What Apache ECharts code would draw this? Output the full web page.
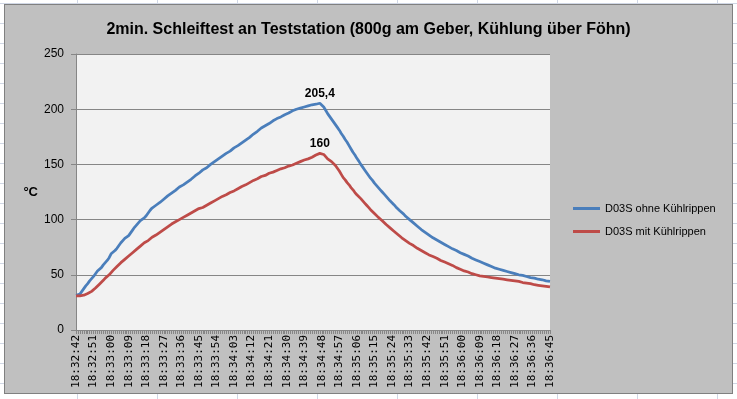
<!DOCTYPE html>
<html>
<head>
<meta charset="utf-8">
<script src="https://cdn.jsdelivr.net/npm/echarts@6/dist/echarts.min.js"></script>
<style>
  html, body {
    margin: 0;
    padding: 0;
    width: 737px;
    height: 399px;
    overflow: hidden;
    background-color: #fff;
    background-image:
      repeating-linear-gradient(to right, transparent 0, transparent 77px, #d0d7e5 77px, #d0d7e5 78px, transparent 78px, transparent 80px),
      repeating-linear-gradient(to bottom, transparent 0, transparent 3px, #d0d7e5 3px, #d0d7e5 4px, transparent 4px, transparent 20px);
  }
  #box {
    position: absolute;
    left: 4px;
    top: 4px;
    width: 727px;
    height: 388px;
    background: #c0c0c0;
    border: 1px solid #808080;
  }
  #chart {
    position: absolute;
    left: 0;
    top: 0;
    width: 737px;
    height: 399px;
  }
</style>
</head>
<body>
<div id="box"></div>
<div id="chart"></div>
<script>
// Messung: ein Wert pro Sekunde ab 18:32:42
const startTime = [18, 32, 42];
const sampleCount = 244;

const ohneRippen = [
  31.5, 31.5, 32.5, 35, 37.5, 40, 42, 44.5, 46.5, 48.5,
  51, 53.5, 55, 56.5, 59, 61, 63, 65.5, 69, 70.5,
  72, 74, 76.5, 79, 81, 83, 84, 85.5, 88, 90.5,
  93, 95, 97, 99, 100, 101.5, 103.5, 106, 108.5, 110.5,
  112, 113, 114, 115.5, 117, 118.5, 120, 121.5, 123, 124,
  125, 126.5, 128, 129.5, 130.5, 131.5, 133, 134, 135, 136.5,
  138, 139.5, 141, 142, 143.5, 145, 146, 147, 148.5, 150,
  151.5, 152.5, 153.5, 155, 156.5, 157.5, 158.5, 160, 161, 162,
  163.5, 165, 166, 167, 168, 169.5, 171, 172, 173, 174.5,
  176, 177.5, 179, 180, 181.5, 183, 184, 185, 186, 187,
  188, 189.5, 190.5, 191.5, 192.5, 193, 194, 195, 195.5, 196.5,
  197.5, 198.5, 199, 200, 200.5, 201, 201.5, 202, 202.5, 203,
  203.5, 204, 204.5, 204.5, 205, 205.4, 205, 202, 199, 196,
  193.5, 191, 188.5, 186, 183.5, 181, 178, 175.5, 172.5, 170,
  167, 164, 161, 158.5, 155.5, 153, 150, 147.5, 145, 142.5,
  140, 137.5, 135.5, 133, 131, 129, 127, 125, 123, 121,
  119, 117, 115.5, 113.5, 111.5, 110, 108, 106.5, 105, 103,
  101.5, 100, 98.5, 97, 95.5, 94, 92.5, 91, 90, 88.5,
  87.5, 86, 85, 83.5, 82.5, 81.5, 80.5, 79.5, 78.5, 77.5,
  76.5, 75.5, 74.5, 73.5, 72.5, 72, 71, 70, 69, 68.5,
  67.7, 67, 66, 65, 64, 63.5, 62.5, 62, 61, 60.5,
  60, 59, 58.5, 57.5, 57, 56, 55.5, 55, 54.5, 54,
  53.5, 53, 52.5, 52, 51.5, 51, 50.5, 50, 49.5, 49.5,
  49, 48.5, 48, 47.5, 47.5, 47, 46.5, 46, 45.5, 45.5,
  45, 44.5, 44, 44
];

const mitRippen = [
  31, 31, 31, 31, 31.5, 32, 33, 34, 35, 36.5,
  38, 39.5, 41.5, 43, 45, 47, 48.5, 50, 52, 54,
  55.5, 57.5, 59, 61, 62.5, 64, 65.5, 67, 68.5, 70,
  71.5, 73, 74.5, 76, 77.5, 79, 80, 81, 82.5, 84,
  85.5, 86, 87, 88.5, 90, 91, 92.5, 93.5, 95, 96,
  97, 98, 99, 100, 101, 102, 103, 104, 105, 106,
  107, 108, 109, 110, 110.5, 111, 112, 113, 114, 115,
  116, 117, 118, 119, 120, 121, 122, 122.5, 123.5, 124.5,
  125.5, 126, 127, 128, 129, 130, 131, 131.5, 132.5, 133.5,
  134.5, 135.5, 136, 137, 138, 139, 139.5, 140, 141, 142,
  142.5, 143, 144, 144.5, 145.5, 146, 146.5, 147, 148, 148.5,
  149, 149.5, 150, 151, 151.5, 152.5, 153, 154, 154.5, 155,
  156, 156.5, 157.5, 158.5, 159.5, 160, 160, 159, 157, 155,
  153.5, 152.5, 151, 149, 146.5, 144, 141, 138, 136, 133.5,
  131.5, 129, 127, 124.5, 122.5, 121, 119, 117, 115, 113,
  111, 109, 107.5, 105.5, 104, 102, 100.5, 99, 97.5, 95.5,
  94, 92.5, 91, 89.5, 88, 86.5, 85, 83.5, 82.5, 81,
  80, 78.5, 77.5, 76.5, 75, 74, 73, 72, 71, 70,
  69, 68, 67.5, 66.5, 65.5, 65, 64, 63, 62.5, 61.5,
  61, 60, 59, 58.5, 57.5, 56.5, 56, 55, 54.5, 53.5,
  53, 52.5, 51.5, 51, 50.5, 50, 49.5, 49, 49, 48.5,
  48.5, 48, 47.5, 47.5, 47, 47, 46.5, 46.5, 46, 46,
  45.5, 45.5, 45, 45, 44.5, 44.5, 44, 44, 43.5, 43,
  42.5, 42.5, 42, 42, 41.5, 41, 41, 40.5, 40.5, 40,
  40, 39.5, 39.5, 39
];

const seriesNames = ["D03S ohne Kühlrippen", "D03S mit Kühlrippen"];
const seriesColors = ["#4a7ebb", "#be4b48"];

// Zeitachse
const zeiten = [];
for (let i = 0; i < sampleCount; i++) {
  let s = startTime[0] * 3600 + startTime[1] * 60 + startTime[2] + i;
  let h = Math.floor(s / 3600);
  let m = Math.floor((s % 3600) / 60);
  let sec = s % 60;
  zeiten.push(h + ":" + String(m).padStart(2, "0") + ":" + String(sec).padStart(2, "0"));
}

// nur das Maximum bekommt ein Label
function mitMaxLabel(werte) {
  let maxIdx = 0;
  werte.forEach((v, i) => {
    if (v > werte[maxIdx]) maxIdx = i;
  });
  return werte.map((v, i) => {
    if (i !== maxIdx) return v;
    return {
      value: v,
      label: {
        show: true,
        position: "top",
        distance: 4,
        color: "#000",
        fontWeight: "bold",
        fontSize: 12,
        fontFamily: "Liberation Sans",
        formatter: p => String(p.value).replace(".", ",")
      }
    };
  });
}

var chart = echarts.init(document.getElementById("chart"));

let option = {
  animation: false,
  title: {
    text: "2min. Schleiftest an Teststation (800g am Geber, Kühlung über Föhn)",
    left: "center",
    top: 17,
    textStyle: {
      color: "#000",
      fontSize: 16,
      fontWeight: "bold",
      fontFamily: "Liberation Sans"
    }
  },
  legend: {
    orient: "vertical",
    left: 568,
    top: 198,
    itemGap: 12,
    itemWidth: 27,
    itemHeight: 3,
    icon: "rect",
    textStyle: {
      color: "#000",
      fontSize: 11,
      fontFamily: "Liberation Sans"
    },
    data: seriesNames
  },
  grid: {
    left: 76,
    right: 187,
    top: 54,
    bottom: 69,
    show: true,
    backgroundColor: "#f2f2f2",
    borderWidth: 0
  },
  xAxis: {
    type: "category",
    data: zeiten,
    boundaryGap: false,
    axisLine: {
      lineStyle: { color: "#868686" }
    },
    axisTick: {
      interval: 0,
      length: 4,
      lineStyle: { color: "#868686" }
    },
    axisLabel: {
      interval: 8,
      rotate: 90,
      margin: 5,
      color: "#000",
      fontSize: 11,
      fontFamily: "DejaVu Sans Mono"
    },
    splitLine: { show: false }
  },
  yAxis: {
    type: "value",
    min: 0,
    max: 250,
    interval: 50,
    name: "°C",
    nameLocation: "middle",
    nameRotate: 0,
    nameGap: 38,
    nameTextStyle: {
      color: "#000",
      fontWeight: "bold",
      fontSize: 13,
      fontFamily: "Liberation Sans"
    },
    axisLine: {
      show: true,
      lineStyle: { color: "#868686" }
    },
    axisTick: {
      show: true,
      length: 5,
      lineStyle: { color: "#868686" }
    },
    axisLabel: {
      margin: 12,
      color: "#000",
      fontSize: 12,
      fontFamily: "Liberation Sans"
    },
    splitLine: {
      lineStyle: { color: "#868686", width: 1 }
    }
  },
  series: [
    {
      name: seriesNames[0],
      type: "line",
      data: mitMaxLabel(ohneRippen),
      color: seriesColors[0],
      symbol: "circle",
      symbolSize: 0,
      showSymbol: true,
      showAllSymbol: true,
      lineStyle: { width: 2.75 }
    },
    {
      name: seriesNames[1],
      type: "line",
      data: mitMaxLabel(mitRippen),
      color: seriesColors[1],
      symbol: "circle",
      symbolSize: 0,
      showSymbol: true,
      showAllSymbol: true,
      lineStyle: { width: 2.75 }
    }
  ]
};
chart.setOption(option, true);
</script>
</body>
</html>
